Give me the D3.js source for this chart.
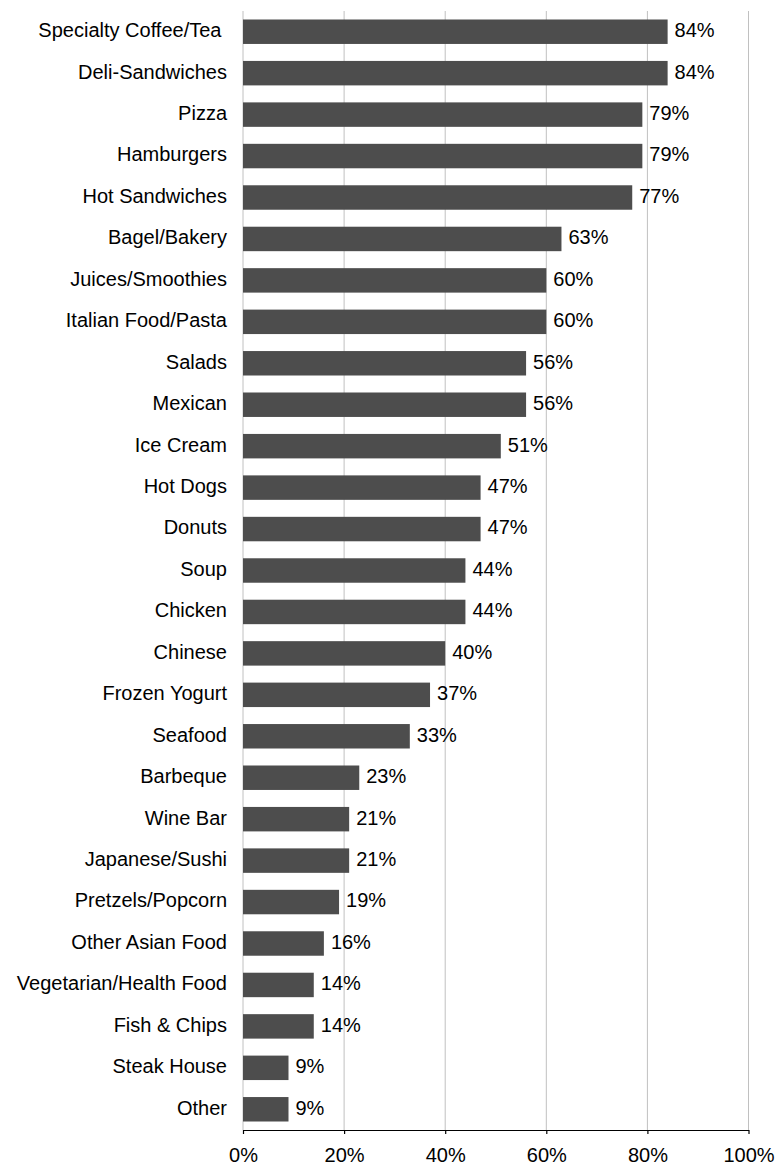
<!DOCTYPE html>
<html>
<head>
<meta charset="utf-8">
<script src="https://cdn.jsdelivr.net/npm/d3@7"></script>
<style>
  html, body { margin: 0; padding: 0; background: #fff; }
  svg { display: block; font-family: "Liberation Sans", Arial, sans-serif; }
</style>
</head>
<body>
<script>
const categories = [
  "Specialty Coffee/Tea ", "Deli-Sandwiches", "Pizza", "Hamburgers", "Hot Sandwiches",
  "Bagel/Bakery", "Juices/Smoothies", "Italian Food/Pasta", "Salads", "Mexican",
  "Ice Cream", "Hot Dogs", "Donuts", "Soup", "Chicken", "Chinese", "Frozen Yogurt",
  "Seafood", "Barbeque", "Wine Bar", "Japanese/Sushi", "Pretzels/Popcorn",
  "Other Asian Food", "Vegetarian/Health Food", "Fish & Chips", "Steak House", "Other"
];
const values = [
  84, 84, 79, 79, 77,
  63, 60, 60, 56, 56,
  51, 47, 47, 44, 44, 40, 37,
  33, 23, 21, 21, 19,
  16, 14, 14, 9, 9
];
const xTicks = [0, 20, 40, 60, 80, 100];

(function () {
const W = 778, H = 1165;
const mLeft = 243, mRight = 748.5, mTop = 11, mBottom = 1130;

const svg = d3.select("body").append("svg").attr("width", W).attr("height", H);

const x = d3.scaleLinear().domain([0, 100]).range([mLeft, mRight]);
const y = d3.scaleBand().domain(categories).range([mTop, mBottom])
  .paddingInner(0.41).paddingOuter(0.205);

// gridlines
svg.append("g").selectAll("line").data(xTicks).join("line")
  .attr("x1", d => x(d)).attr("x2", d => x(d))
  .attr("y1", mTop).attr("y2", mBottom)
  .attr("stroke", "#c0c0c0").attr("stroke-width", 1);

// bars
svg.append("g").selectAll("rect").data(categories).join("rect")
  .attr("x", x(0))
  .attr("y", d => y(d))
  .attr("width", (d, i) => x(values[i]) - x(0))
  .attr("height", y.bandwidth())
  .attr("fill", "#4d4d4d");

// value labels
svg.append("g").selectAll("text").data(categories).join("text")
  .attr("x", (d, i) => x(values[i]) + 7)
  .attr("y", d => y(d) + y.bandwidth() / 2)
  .attr("dy", "0.27em")
  .attr("font-size", 20)
  .attr("fill", "#000")
  .text((d, i) => values[i] + "%");

// category labels
svg.append("g").selectAll("text").data(categories).join("text")
  .attr("x", mLeft - 16)
  .attr("y", d => y(d) + y.bandwidth() / 2)
  .attr("dy", "0.27em")
  .attr("text-anchor", "end")
  .attr("font-size", 20)
  .attr("fill", "#000")
  .attr("xml:space", "preserve")
  .style("white-space", "pre")
  .text(d => d);

// bottom axis
const xAxis = d3.axisBottom(x).tickValues(xTicks).tickFormat(d => d + "%").tickSizeInner(4).tickSizeOuter(0).tickPadding(14);
const gx = svg.append("g").attr("transform", `translate(0,${mBottom})`).call(xAxis);
gx.select(".domain").attr("stroke", "#000").attr("stroke-width", 1.2);
gx.selectAll(".tick line").attr("stroke", "#000").attr("stroke-width", 1.2);
gx.selectAll(".tick text").attr("font-size", 20).attr("font-family", "Liberation Sans, Arial, sans-serif").attr("fill", "#000");
})();
</script>
</body>
</html>
